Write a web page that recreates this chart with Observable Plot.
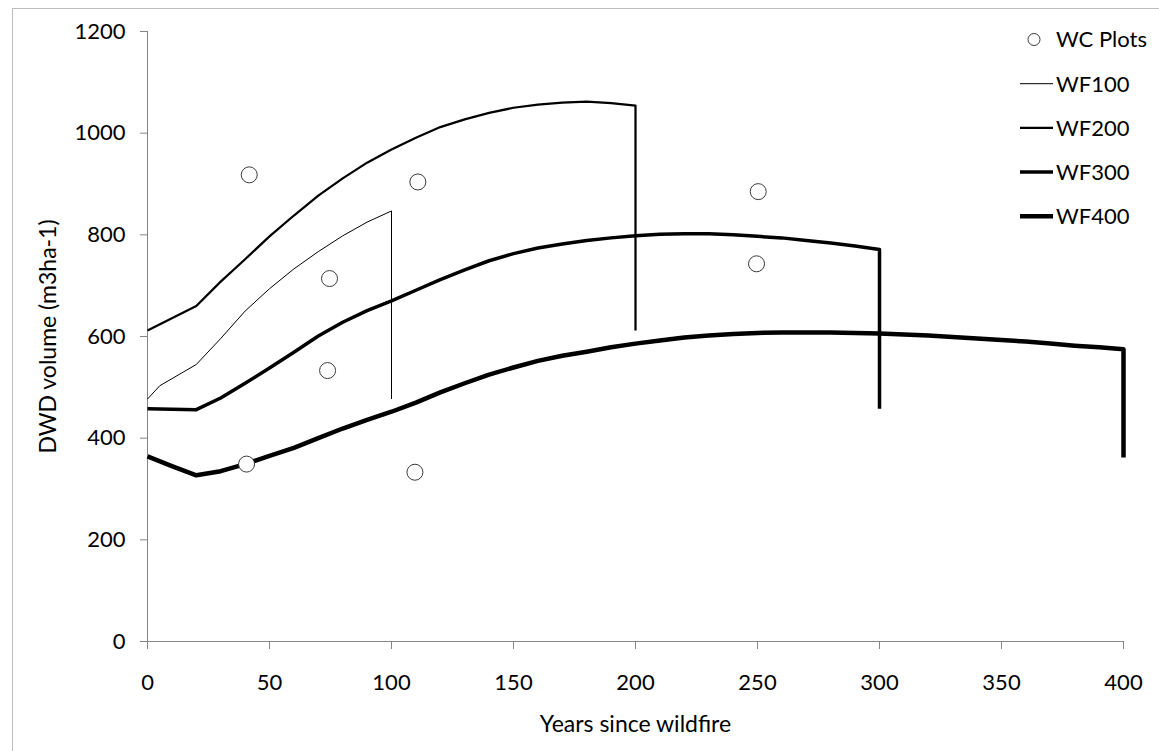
<!DOCTYPE html>
<html>
<head>
<meta charset="utf-8">
<script src="https://cdn.jsdelivr.net/npm/d3@7"></script>
<script src="https://cdn.jsdelivr.net/npm/@observablehq/plot@0.6"></script>
<style>
  html, body { margin: 0; padding: 0; background: #fff; overflow: hidden; }
  #wrap { position: relative; width: 1159px; height: 751px; overflow: hidden; }
  #frame { position: absolute; left: 12px; top: 8px; width: 1300px; height: 900px; border: 1.5px solid #bdbdbd; box-sizing: border-box; }
  #chart { position: absolute; left: 0; top: 0; }
  #legend { position: absolute; left: 0; top: 0; pointer-events: none; }
</style>
</head>
<body>
<div id="wrap">
  <div id="frame"></div>
  <div id="chart"></div>
  <svg id="legend" width="1159" height="751"></svg>
</div>
<script>
// ---- Data ----
const xTicks = [0, 50, 100, 150, 200, 250, 300, 350, 400];
const yTicks = [0, 200, 400, 600, 800, 1000, 1200];

const wcYears  = [41.7, 110.8, 74.6, 73.8, 40.6, 109.6, 250.3, 249.6];
const wcVolume = [918, 904, 714, 533, 349, 333, 885, 743];

const wf100Years = [0, 5, 10, 20, 30, 40, 50, 60, 70, 80, 90, 100, 100];
const wf100Vol   = [477, 503, 517, 545, 596, 650, 694, 733, 767, 798, 825, 847, 477];

const wf200Years = [0, 10, 20, 30, 40, 50, 60, 70, 80, 90, 100, 110, 120, 130, 140, 150, 160, 170, 180, 190, 200, 200];
const wf200Vol   = [612, 636, 660, 708, 752, 797, 838, 877, 911, 942, 968, 991, 1012, 1027, 1040, 1050, 1056, 1060, 1062, 1059, 1054, 612];

const wf300Years = [0, 10, 20, 30, 40, 50, 60, 70, 80, 90, 100, 110, 120, 130, 140, 150, 160, 170, 180, 190, 200, 210, 220, 230, 240, 250, 260, 270, 280, 290, 300, 300];
const wf300Vol   = [458, 457, 456, 479, 508, 538, 569, 601, 628, 651, 670, 691, 712, 731, 749, 763, 774, 782, 789, 794, 798, 801, 802, 802, 800, 797, 794, 789, 784, 778, 771, 458];

const wf400Years = [0, 10, 20, 30, 40, 50, 60, 70, 80, 90, 100, 110, 120, 130, 140, 150, 160, 170, 180, 190, 200, 210, 220, 230, 240, 250, 260, 270, 280, 290, 300, 310, 320, 330, 340, 350, 360, 370, 380, 390, 400, 400];
const wf400Vol   = [364, 345, 327, 335, 349, 365, 381, 400, 419, 436, 452, 470, 490, 508, 525, 539, 552, 562, 570, 579, 586, 592, 598, 602, 605, 607, 608, 608, 608, 607, 606, 604, 602, 599, 596, 593, 590, 586, 582, 579, 575, 362];

const seriesNames  = ["WF100", "WF200", "WF300", "WF400"];
const seriesWidths = [1, 2.25, 3.5, 4.5];
const legendLabels = ["WC Plots", "WF100", "WF200", "WF300", "WF400"];

const xLabel = "Years since wildfire";
const yLabel = "DWD volume (m3ha-1)";

// ---- Build tables ----
const toRows = (xs, ys) => xs.map((x, i) => ({x, y: ys[i]}));
const wc = toRows(wcYears, wcVolume);
const lines = [
  toRows(wf100Years, wf100Vol),
  toRows(wf200Years, wf200Vol),
  toRows(wf300Years, wf300Vol),
  toRows(wf400Years, wf400Vol)
];

const FONT = "Lato, 'Open Sans', sans-serif";
const AXIS = "#868686";

const chart = Plot.plot({
  width: 1159,
  height: 751,
  marginLeft: 147,
  marginRight: 36,
  marginTop: 31,
  marginBottom: 110,
  style: {fontFamily: FONT, fontSize: "22px", color: "#000", background: "transparent", overflow: "visible"},
  x: {domain: [0, 400]},
  y: {domain: [0, 1200]},
  marks: [
    Plot.axisX({ticks: xTicks, tickSize: 8, tickPadding: 25, tickFormat: d3.format("d"), stroke: AXIS, fill: "#000", label: null, fontSize: 22}),
    Plot.axisY({ticks: yTicks, tickSize: 7, tickPadding: 15, tickFormat: d3.format("d"), stroke: AXIS, fill: "#000", label: null, fontSize: 22}),
    Plot.ruleX([0], {stroke: AXIS, strokeWidth: 1}),
    Plot.ruleY([0], {stroke: AXIS, strokeWidth: 1}),
    ...lines.map((rows, i) => Plot.line(rows, {x: "x", y: "y", stroke: "#000", strokeWidth: seriesWidths[i], strokeLinejoin: "round", strokeLinecap: "butt"})),
    Plot.dot(wc, {x: "x", y: "y", r: 8, fill: "#fff", stroke: "#3a3a3a", strokeWidth: 1}),
    Plot.text([xLabel], {frameAnchor: "bottom", dy: 83, text: d => d, fontSize: 23, fill: "#000", textAnchor: "middle", lineAnchor: "middle"}),
    Plot.text([yLabel], {frameAnchor: "left", dx: -99, rotate: -90, text: d => d, fontSize: 23, fill: "#000", textAnchor: "middle", lineAnchor: "middle"})
  ]
});
document.getElementById("chart").appendChild(chart);

// ---- Legend (inside the plot area, top right) ----
const lg = d3.select("#legend");
const rowY0 = 39.5, rowStep = 44.2;
legendLabels.forEach((label, i) => {
  const y = rowY0 + i * rowStep;
  if (i === 0) {
    lg.append("circle").attr("cx", 1034).attr("cy", y).attr("r", 6)
      .attr("fill", "#fff").attr("stroke", "#3a3a3a").attr("stroke-width", 1);
  } else {
    lg.append("line").attr("x1", 1020).attr("x2", 1053).attr("y1", y).attr("y2", y)
      .attr("stroke", "#000").attr("stroke-width", seriesWidths[i - 1]);
  }
  lg.append("text").attr("x", 1056).attr("y", y).attr("dy", "0.36em")
    .attr("font-family", FONT).attr("font-size", 22).attr("fill", "#000")
    .text(label);
});
</script>
</body>
</html>
